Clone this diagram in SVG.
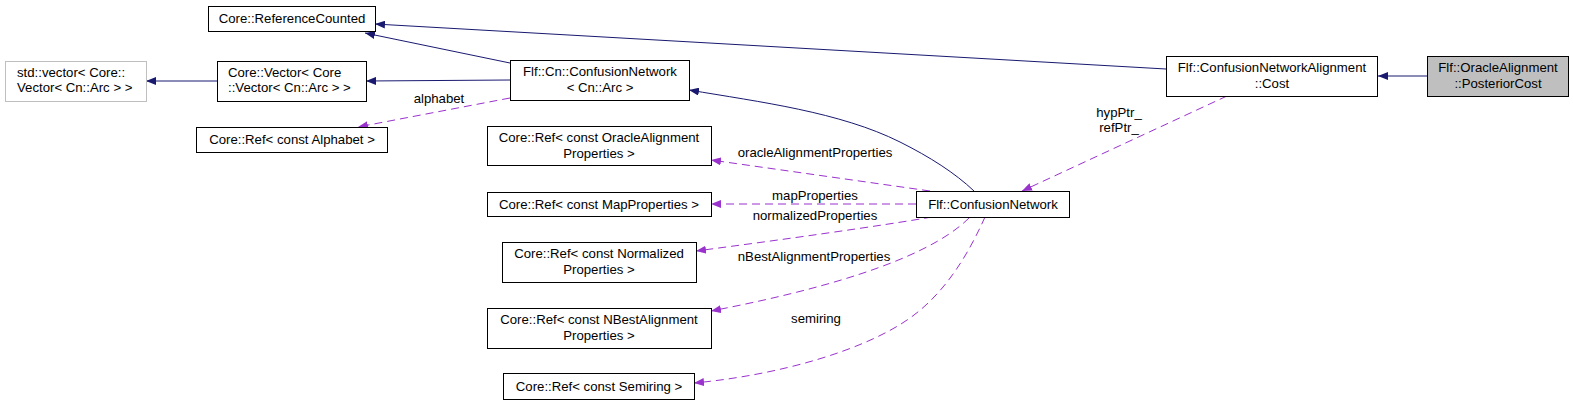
<svg xmlns="http://www.w3.org/2000/svg" width="1573" height="405" viewBox="0 0 1573 405">
<style>
  .box { fill: #ffffff; stroke: #000000; stroke-width: 1; }
  .gray { fill: #ffffff; stroke: #bfbfbf; stroke-width: 1; }
  .hl { fill: #bfbfbf; stroke: #000000; stroke-width: 1; }
  text { font-family: "Liberation Sans", Arial, sans-serif; font-size: 13.2px; fill: #000000; }
  .c { text-anchor: middle; }
  .l { text-anchor: start; }
  .inh { fill: none; stroke: #191970; stroke-width: 1; marker-end: url(#blue); }
  .use { fill: none; stroke: #9a32cd; stroke-width: 1; stroke-dasharray: 8,5; marker-end: url(#purple); }
</style>
<defs>
  <marker id="blue" markerUnits="userSpaceOnUse" markerWidth="11" markerHeight="8" refX="10" refY="4" orient="auto">
    <path d="M0,0 L10,4 L0,8 z" fill="#191970"/>
  </marker>
  <marker id="purple" markerUnits="userSpaceOnUse" markerWidth="11" markerHeight="8" refX="10" refY="4" orient="auto">
    <path d="M0,0 L10,4 L0,8 z" fill="#9a32cd"/>
  </marker>
</defs>
<rect width="1573" height="405" fill="#ffffff"/>

<g id="connectors">
  <path class="inh" d="M510,63 L365,33"/>
  <path class="inh" d="M1166,69 L375,24"/>
  <path class="inh" d="M510,80 L366,81"/>
  <path class="inh" d="M217,81 L146,81"/>
  <path class="inh" d="M1427,76 L1378,76"/>
  <path class="inh" d="M974,191 C955,173 930,157 900,142 C840,112 760,102 689,90"/>
  <path class="use" d="M1227,96 L1022,191"/>
  <text class="c" x="1119" y="117">hypPtr_</text>
  <text class="c" x="1119" y="132">refPtr_</text>
  <path class="use" d="M510,98 L358,127"/>
  <text class="c" x="439" y="103">alphabet</text>
  <path class="use" d="M930,191 L711,160"/>
  <text class="c" x="815" y="157">oracleAlignmentProperties</text>
  <path class="use" d="M916,204 L711,204"/>
  <text class="c" x="815" y="200">mapProperties</text>
  <path class="use" d="M932,217 C880,226 780,240 696,251"/>
  <text class="c" x="815" y="220">normalizedProperties</text>
  <path class="use" d="M969,218 C925,262 810,292 711,311"/>
  <text class="c" x="814" y="261">nBestAlignmentProperties</text>
  <path class="use" d="M985,217 C968,255 945,293 910,318 C865,350 780,375 694,383"/>
  <text class="c" x="816" y="323">semiring</text>
</g>

<g id="node_referencecounted">
  <rect class="box" x="208.5" y="6.5" width="167" height="25"/>
  <text class="c" x="292" y="23">Core::ReferenceCounted</text>
</g>
<g id="node_stdvector">
  <rect class="gray" x="5.5" y="61.5" width="141" height="40"/>
  <text class="l" x="17" y="77">std::vector&lt; Core::</text>
  <text class="l" x="17" y="92">Vector&lt; Cn::Arc &gt; &gt;</text>
</g>
<g id="node_corevector">
  <rect class="box" x="217.5" y="61.5" width="149" height="40"/>
  <text class="l" x="228" y="77">Core::Vector&lt; Core</text>
  <text class="l" x="228" y="92">::Vector&lt; Cn::Arc &gt; &gt;</text>
</g>
<g id="node_flfcncn">
  <rect class="box" x="510.5" y="60.5" width="179" height="40"/>
  <text class="c" x="600" y="76">Flf::Cn::ConfusionNetwork</text>
  <text class="c" x="600" y="91.5">&lt; Cn::Arc &gt;</text>
</g>
<g id="node_alphabet">
  <rect class="box" x="196.5" y="127.5" width="191" height="25"/>
  <text class="c" x="292" y="144">Core::Ref&lt; const Alphabet &gt;</text>
</g>
<g id="node_oracleprops">
  <rect class="box" x="487.5" y="126.5" width="224" height="39"/>
  <text class="c" x="599" y="142">Core::Ref&lt; const OracleAlignment</text>
  <text class="c" x="599" y="157.5">Properties &gt;</text>
</g>
<g id="node_mapprops">
  <rect class="box" x="487.5" y="192.5" width="224" height="24"/>
  <text class="c" x="599" y="208.5">Core::Ref&lt; const MapProperties &gt;</text>
</g>
<g id="node_normprops">
  <rect class="box" x="502.5" y="242.5" width="194" height="40"/>
  <text class="c" x="599" y="258">Core::Ref&lt; const Normalized</text>
  <text class="c" x="599" y="273.5">Properties &gt;</text>
</g>
<g id="node_nbestprops">
  <rect class="box" x="487.5" y="308.5" width="224" height="40"/>
  <text class="c" x="599" y="324">Core::Ref&lt; const NBestAlignment</text>
  <text class="c" x="599" y="339.5">Properties &gt;</text>
</g>
<g id="node_semiring">
  <rect class="box" x="503.5" y="373.5" width="191" height="26"/>
  <text class="c" x="599" y="390.5">Core::Ref&lt; const Semiring &gt;</text>
</g>
<g id="node_flfcn">
  <rect class="box" x="916.5" y="191.5" width="153" height="26"/>
  <text class="c" x="993" y="208.5">Flf::ConfusionNetwork</text>
</g>
<g id="node_cost">
  <rect class="box" x="1166.5" y="56.5" width="211" height="40"/>
  <text class="c" x="1272" y="72">Flf::ConfusionNetworkAlignment</text>
  <text class="c" x="1272" y="87.5">::Cost</text>
</g>
<g id="node_posteriorcost">
  <rect class="hl" x="1427.5" y="56.5" width="141" height="40"/>
  <text class="c" x="1498" y="72">Flf::OracleAlignment</text>
  <text class="c" x="1498" y="87.5">::PosteriorCost</text>
</g>
</svg>
